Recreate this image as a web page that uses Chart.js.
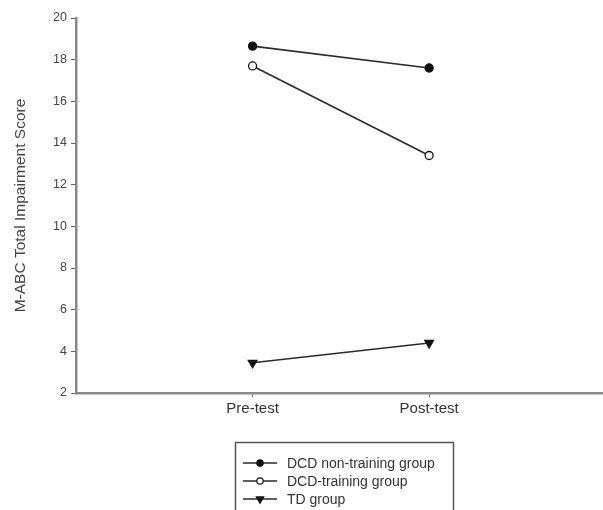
<!DOCTYPE html>
<html>
<head>
<meta charset="utf-8">
<script src="https://cdn.jsdelivr.net/npm/chart.js@4.4.1/dist/chart.umd.min.js"></script>
<style>
html,body{margin:0;padding:0;background:#fff;overflow:hidden;width:603px;height:510px;}
#wrap{width:612px;height:510px;}
</style>
</head>
<body>
<div id="wrap"><canvas id="c" width="612" height="510"></canvas></div>
<script>
const categories = ['Pre-test', 'Post-test'];
const seriesNames = ['DCD non-training group', 'DCD-training group', 'TD group'];
const dcdNonTraining = [18.65, 17.6];
const dcdTraining = [17.7, 13.4];
const tdGroup = [3.45, 4.4];
const yTicks = [2, 4, 6, 8, 10, 12, 14, 16, 18, 20];
const yTitle = 'M-ABC Total Impairment Score';

function toPts(arr){ return arr.map((v,i)=>({x:i+1,y:v})); }

const FONT = '"Liberation Sans", Arial, sans-serif';
const styles = [
  {pointStyle:'circle', bg:'#111', rot:0, r:4, lr:3.2},
  {pointStyle:'circle', bg:'#fff', rot:0, r:4, lr:3.2},
  {pointStyle:'triangle', bg:'#111', rot:180, r:5, lr:4.2}
];
const seriesData = [dcdNonTraining, dcdTraining, tdGroup];

const datasets = seriesData.map((arr, k) => ({
  label: seriesNames[k],
  data: toPts(arr),
  borderColor: '#2a2a2a',
  borderWidth: 1.6,
  pointStyle: styles[k].pointStyle,
  pointRotation: styles[k].rot,
  pointRadius: styles[k].r,
  pointBackgroundColor: styles[k].bg,
  pointBorderColor: '#111',
  pointBorderWidth: 1.3,
  tension: 0,
  clip: false
}));

const legendPlugin = {
  id: 'boxLegend',
  afterDraw(chart){
    const ctx = chart.ctx;
    ctx.save();
    ctx.strokeStyle = '#555';
    ctx.lineWidth = 1.5;
    ctx.strokeRect(235.5, 442.5, 218, 90);
    const ys = [463, 481, 499];
    ctx.font = '14px ' + FONT;
    ctx.textBaseline = 'middle';
    ctx.textAlign = 'left';
    chart.data.datasets.forEach((ds, k) => {
      const y = ys[k];
      ctx.strokeStyle = '#2a2a2a';
      ctx.lineWidth = 1.6;
      ctx.beginPath(); ctx.moveTo(243, y); ctx.lineTo(277, y); ctx.stroke();
      ctx.fillStyle = ds.pointBackgroundColor;
      ctx.strokeStyle = '#111';
      ctx.lineWidth = 1.2;
      Chart.helpers.drawPoint(ctx, {pointStyle: ds.pointStyle, rotation: ds.pointRotation, radius: styles[k].lr, borderWidth: 1.2}, 260, y);
      ctx.fillStyle = '#333';
      ctx.fillText(ds.label, 287, y + 1);
    });
    ctx.restore();
  }
};

new Chart(document.getElementById('c'), {
  type: 'line',
  data: { datasets },
  options: {
    responsive: false,
    animation: false,
    layout: { padding: { top: 18, bottom: 87, left: 0, right: 5 } },
    plugins: { legend: { display: false }, tooltip: { enabled: false } },
    scales: {
      x: {
        type: 'linear',
        min: 0, max: 3,
        afterBuildTicks(s){ s.ticks = categories.map((c,i)=>({value:i+1})); },
        afterFit(s){ s.height = 30; },
        ticks: {
          callback(v){ return categories[v-1] || ''; },
          font: { size: 15, family: FONT },
          color: '#333',
          padding: 3,
          maxRotation: 0
        },
        grid: { drawOnChartArea: false, tickLength: 4, color: '#666', lineWidth: 1 },
        border: { color: '#888', width: 2.5 }
      },
      y: {
        min: 2, max: 20,
        afterBuildTicks(s){ s.ticks = yTicks.map(v=>({value:v})); },
        afterFit(s){ s.width = 76; },
        ticks: {
          font: { size: 12.5, family: FONT },
          color: '#444',
          padding: 4
        },
        grid: { drawOnChartArea: false, tickLength: 5, color: '#666', lineWidth: 1 },
        border: { color: '#888', width: 2.5 },
        title: {
          display: true,
          text: yTitle,
          font: { size: 15.5, family: FONT },
          color: '#444',
          padding: { top: 11, bottom: 0 }
        }
      }
    }
  },
  plugins: [legendPlugin]
});
</script>
</body>
</html>
